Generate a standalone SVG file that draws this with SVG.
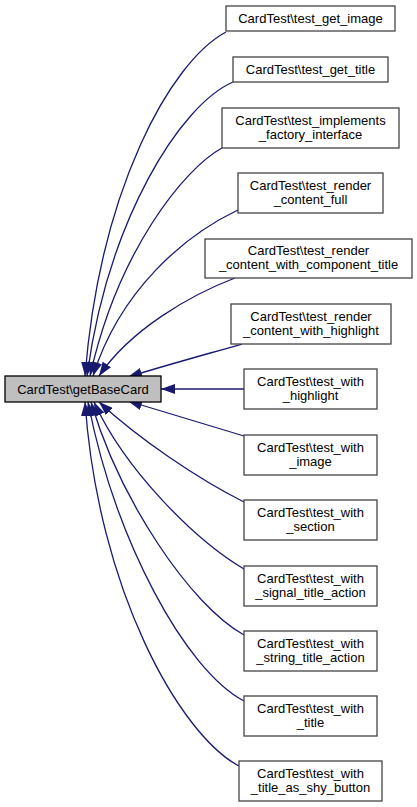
<svg xmlns="http://www.w3.org/2000/svg" width="417" height="807" viewBox="0 0 417 807">
<style>
.n rect{fill:#ffffff;stroke:#444444;stroke-width:1.3}
.m rect{fill:#bfbfbf;stroke:#000000;stroke-width:1.3}
text{font-family:"Liberation Sans",Arial,sans-serif;font-size:13px;text-anchor:middle;fill:#000000}
.e path{fill:none;stroke:#191970;stroke-width:1.3;marker-end:url(#ah)}
</style>
<defs>
<marker id="ah" markerUnits="userSpaceOnUse" markerWidth="14" markerHeight="10" viewBox="0 0 14 10" refX="14" refY="5" orient="auto">
<path d="M0,0 L14,5 L0,10 z" fill="#191970" stroke="none"/>
</marker>
</defs>
<rect x="0" y="0" width="417" height="807" fill="#ffffff"/>
<g id="edges" class="e">
<path d="M226,32 C170,62 100,190 85,376"/>
<path d="M233,82 C180,105 108,220 87,376"/>
<path d="M222,148 C185,168 118,250 90,376"/>
<path d="M238,210 C185,235 120,290 93,376"/>
<path d="M235,278 C190,295 130,330 99,376"/>
<path d="M242,344 C200,356 160,367 128,377"/>
<path d="M244,389 L161,389"/>
<path d="M244,436 C200,423 160,411 128,401"/>
<path d="M244,502 C200,480 140,440 99,402"/>
<path d="M244,569 C195,540 125,470 94,402"/>
<path d="M244,635 C190,605 120,500 91,402"/>
<path d="M244,701 C185,670 115,540 88,402"/>
<path d="M239,766 C180,735 98,590 85,402"/>
</g>
<g id="node_main" class="m"><rect x="5" y="376" width="156" height="26"/><text x="83" y="393.5">CardTest\getBaseCard</text></g>
<g id="node1" class="n"><rect x="226" y="6" width="169" height="25"/><text x="310.5" y="23">CardTest\test_get_image</text></g>
<g id="node2" class="n"><rect x="233" y="57" width="155" height="25"/><text x="310.5" y="74">CardTest\test_get_title</text></g>
<g id="node3" class="n"><rect x="222" y="108" width="177" height="40"/><text x="310.5" y="124.5">CardTest\test_implements</text><text x="310.5" y="138.5">_factory_interface</text></g>
<g id="node4" class="n"><rect x="238" y="173" width="145" height="40"/><text x="310.5" y="189.5">CardTest\test_render</text><text x="310.5" y="203.5">_content_full</text></g>
<g id="node5" class="n"><rect x="205" y="239" width="207" height="39"/><text x="308.5" y="255">CardTest\test_render</text><text x="308.5" y="269">_content_with_component_title</text></g>
<g id="node6" class="n"><rect x="231" y="304" width="160" height="40"/><text x="311" y="320.5">CardTest\test_render</text><text x="311" y="334.5">_content_with_highlight</text></g>
<g id="node7" class="n"><rect x="244" y="369" width="133" height="40"/><text x="310.5" y="385.5">CardTest\test_with</text><text x="310.5" y="399.5">_highlight</text></g>
<g id="node8" class="n"><rect x="244" y="435" width="133" height="40"/><text x="310.5" y="451.5">CardTest\test_with</text><text x="310.5" y="465.5">_image</text></g>
<g id="node9" class="n"><rect x="244" y="500" width="133" height="40"/><text x="310.5" y="516.5">CardTest\test_with</text><text x="310.5" y="530.5">_section</text></g>
<g id="node10" class="n"><rect x="244" y="566" width="133" height="40"/><text x="310.5" y="582.5">CardTest\test_with</text><text x="310.5" y="596.5">_signal_title_action</text></g>
<g id="node11" class="n"><rect x="244" y="631" width="133" height="40"/><text x="310.5" y="647.5">CardTest\test_with</text><text x="310.5" y="661.5">_string_title_action</text></g>
<g id="node12" class="n"><rect x="244" y="696" width="133" height="40"/><text x="310.5" y="712.5">CardTest\test_with</text><text x="310.5" y="726.5">_title</text></g>
<g id="node13" class="n"><rect x="239" y="761" width="143" height="40"/><text x="310.5" y="777.5">CardTest\test_with</text><text x="310.5" y="791.5">_title_as_shy_button</text></g>
</svg>
